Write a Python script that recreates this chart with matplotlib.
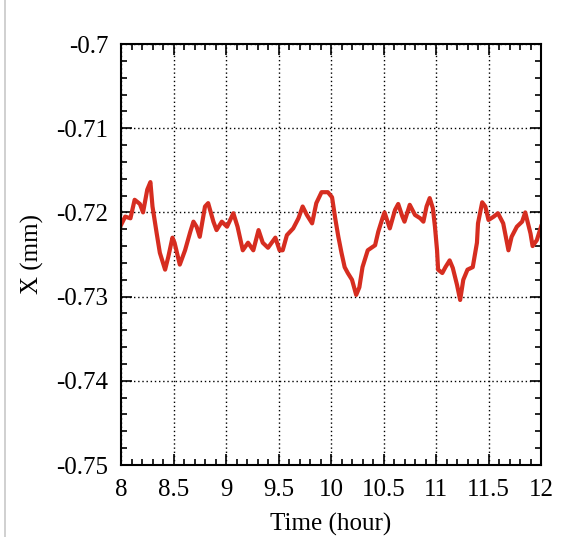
#!/usr/bin/env python3

import matplotlib
matplotlib.use("Agg")
import matplotlib.pyplot as plt
from matplotlib.lines import Line2D
from matplotlib.ticker import MultipleLocator

# time in hours, X position in mm
time_hour = [8.00, 8.04, 8.09, 8.13, 8.18, 8.21, 8.25, 8.28, 8.30, 8.34,
             8.37, 8.42, 8.45, 8.49, 8.51, 8.56, 8.61, 8.66, 8.69, 8.72,
             8.75, 8.80, 8.83, 8.88, 8.91, 8.96, 9.01, 9.07, 9.11, 9.16,
             9.21, 9.26, 9.31, 9.35, 9.40, 9.47, 9.51, 9.54, 9.58, 9.64,
             9.69, 9.73, 9.77, 9.82, 9.86, 9.91, 9.97, 10.01, 10.04, 10.07,
             10.10, 10.13, 10.16, 10.20, 10.24, 10.27, 10.30, 10.35, 10.42, 10.45,
             10.49, 10.51, 10.56, 10.61, 10.64, 10.68, 10.70, 10.75, 10.80, 10.85,
             10.88, 10.91, 10.94, 10.97, 10.99, 11.01, 11.02, 11.06, 11.09, 11.13,
             11.16, 11.20, 11.23, 11.26, 11.30, 11.35, 11.39, 11.40, 11.44, 11.47,
             11.50, 11.55, 11.59, 11.64, 11.69, 11.72, 11.77, 11.82, 11.85, 11.90,
             11.92, 11.96, 12.00]

x_mm = [-0.7215, -0.7205, -0.7207, -0.7185, -0.7190, -0.7200, -0.7173, -0.7164, -0.7193, -0.7225,
        -0.7248, -0.7268, -0.7253, -0.7230, -0.7236, -0.7262, -0.7245, -0.7223, -0.7211, -0.7217,
        -0.7229, -0.7193, -0.7189, -0.7211, -0.7221, -0.7211, -0.7217, -0.7201, -0.7217, -0.7245,
        -0.7236, -0.7245, -0.7221, -0.7236, -0.7242, -0.7230, -0.7245, -0.7245, -0.7227, -0.7219,
        -0.7207, -0.7193, -0.7203, -0.7213, -0.7189, -0.7176, -0.7176, -0.7182, -0.7207, -0.7229,
        -0.7248, -0.7265, -0.7272, -0.7280, -0.7298, -0.7289, -0.7265, -0.7245, -0.7239, -0.7223,
        -0.7207, -0.7200, -0.7219, -0.7197, -0.7190, -0.7205, -0.7211, -0.7191, -0.7203, -0.7207,
        -0.7211, -0.7193, -0.7183, -0.7195, -0.7217, -0.7245, -0.7268, -0.7272, -0.7265, -0.7257,
        -0.7266, -0.7286, -0.7304, -0.7280, -0.7268, -0.7265, -0.7236, -0.7213, -0.7188, -0.7193,
        -0.7209, -0.7205, -0.7201, -0.7213, -0.7245, -0.7229, -0.7217, -0.7211, -0.7200, -0.7225,
        -0.7240, -0.7233, -0.7217]

x_ticks = [8, 8.5, 9, 9.5, 10, 10.5, 11, 11.5, 12]
x_tick_labels = ["8", "8.5", "9", "9.5", "10", "10.5", "11", "11.5", "12"]
y_ticks = [-0.75, -0.74, -0.73, -0.72, -0.71, -0.7]
y_tick_labels = ["-0.75", "-0.74", "-0.73", "-0.72", "-0.71", "-0.7"]


def main():
    plt.rcParams["font.family"] = ["Liberation Serif", "DejaVu Serif"]

    fig = plt.figure(figsize=(5.63, 5.37), dpi=100)
    ax = fig.add_axes([121 / 563, 72 / 537, 420 / 563, 421 / 537])

    ax.plot(time_hour, x_mm, color="#d62d20", linewidth=3.0)

    ax.set_xlim(8, 12)
    ax.set_ylim(-0.75, -0.7)
    ax.set_xticks(x_ticks)
    ax.set_xticklabels(x_tick_labels)
    ax.set_yticks(y_ticks)
    ax.set_yticklabels(y_tick_labels)
    ax.xaxis.set_minor_locator(MultipleLocator(0.1))
    ax.yaxis.set_minor_locator(MultipleLocator(0.002))

    ax.tick_params(which="both", direction="in", top=True, right=True,
                   labelsize=18, width=1.2)
    ax.tick_params(axis="x", which="major", pad=10)
    ax.tick_params(axis="y", which="major", pad=9)
    ax.tick_params(which="major", length=8)
    ax.tick_params(which="minor", length=4)

    ax.grid(True, which="major", color="black", linestyle=(0, (1, 2)), linewidth=1.0)
    for spine in ax.spines.values():
        spine.set_linewidth(1.5)

    ax.set_xlabel("Time (hour)", fontsize=18, labelpad=9)
    ax.set_ylabel("X (mm)", fontsize=18, labelpad=9)

    # thin grey border line at the left edge of the picture
    fig.add_artist(Line2D([5 / 563, 5 / 563], [0, 1], color="#c8c8c8",
                          linewidth=1.2, transform=fig.transFigure))

    fig.savefig("out.png", dpi=100)


if __name__ == "__main__":
    main()
